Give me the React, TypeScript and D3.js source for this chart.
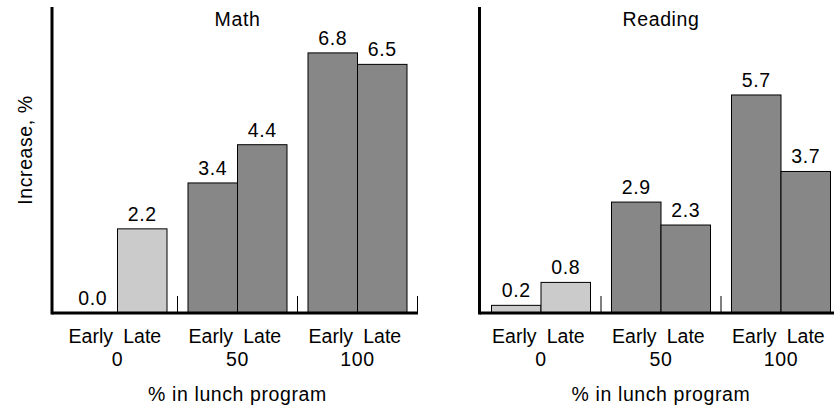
import React from "react";
import * as d3 from "d3";

const groups = ["0", "50", "100"];
const timings = ["Early", "Late"];
const mathValues = [[0.0, 2.2], [3.4, 4.4], [6.8, 6.5]];
const readingValues = [[0.2, 0.8], [2.9, 2.3], [5.7, 3.7]];
const panelTitles = ["Math", "Reading"];
const xTitle = "% in lunch program";
const yTitle = "Increase, %";

const W = 834;
const H = 409;
const FONT = "'Liberation Sans', Arial, Helvetica, sans-serif";
const FS = 19.5;
const LS = 0.6;

const y = d3.scaleLinear().domain([0, 8]).range([313, 7]);

function Panel({ title, values, axisX, rangeStart, baseEnd }: { title: string; values: number[][]; axisX: number; rangeStart: number; baseEnd: number }) {
  const gx = d3.scaleBand<string>().domain(groups).range([rangeStart, rangeStart + 360]).paddingInner(0.175).paddingOuter(0.0875);
  const bx = d3.scaleBand<string>().domain(timings).range([0, gx.bandwidth()]);
  const step = gx.step();
  const gap = step - gx.bandwidth();
  const center = ((gx(groups[0]) as number) + (gx(groups[groups.length - 1]) as number) + gx.bandwidth()) / 2;
  const base = y(0);
  const textStyle = { fontFamily: FONT, fontSize: FS, letterSpacing: LS } as any;
  return (
    <g>
      {groups.map((g, gi) => {
        const x0 = gx(g) as number;
        return (
          <g key={g}>
            {timings.map((t, ti) => {
              const v = values[gi][ti];
              const bxPos = x0 + (bx(t) as number);
              const fill = gi === 0 ? "#cbcbcb" : "#878787";
              return (
                <g key={t}>
                  {v > 0 && (
                    <rect x={bxPos} y={y(v)} width={bx.bandwidth()} height={base - y(v)} fill={fill} stroke="#000" strokeWidth={1} />
                  )}
                  <text x={bxPos + bx.bandwidth() / 2} y={y(v) - 8} textAnchor="middle" style={textStyle}>{v.toFixed(1)}</text>
                  <text x={bxPos + bx.bandwidth() / 2 + (ti === 0 ? -2 : 0)} y={343} textAnchor="middle" style={{ ...textStyle, letterSpacing: 0 }}>{t}</text>
                </g>
              );
            })}
            <text x={x0 + gx.bandwidth() / 2} y={366} textAnchor="middle" style={textStyle}>{g}</text>
            <line x1={x0 + gx.bandwidth() + gap / 2} x2={x0 + gx.bandwidth() + gap / 2} y1={base} y2={base - 17} stroke="#000" strokeWidth={1} />
          </g>
        );
      })}
      <line x1={axisX} x2={baseEnd} y1={base} y2={base} stroke="#000" strokeWidth={3} />
      <line x1={axisX} x2={axisX} y1={base + 1.5} y2={y(8)} stroke="#000" strokeWidth={3} />
      <text x={center} y={26} textAnchor="middle" style={textStyle}>{title}</text>
      <text x={center} y={401} textAnchor="middle" style={textStyle}>{xTitle}</text>
    </g>
  );
}

export default function App() {
  return (
    <svg width={W} height={H} style={{ position: "absolute", left: 0, top: 0, background: "#fff" }}>
      <rect x={0} y={0} width={W} height={H} fill="#fff" />
      <Panel title={panelTitles[0]} values={mathValues} axisX={52} rangeStart={57.5} baseEnd={418} />
      <Panel title={panelTitles[1]} values={readingValues} axisX={479.5} rangeStart={481} baseEnd={834} />
      <text transform={`translate(32,150) rotate(-90)`} textAnchor="middle" style={{ fontFamily: FONT, fontSize: FS, letterSpacing: LS }}>{yTitle}</text>
    </svg>
  );
}
